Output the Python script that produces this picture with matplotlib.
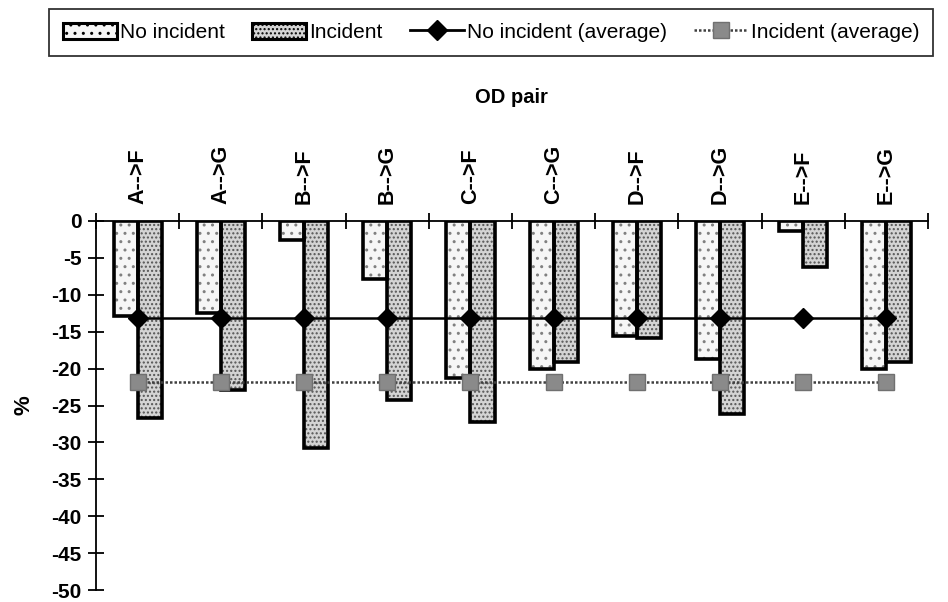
import numpy as np
import matplotlib

matplotlib.use("Agg")
import matplotlib.pyplot as plt  # noqa: E402
from matplotlib.patches import Patch  # noqa: E402
from matplotlib.lines import Line2D  # noqa: E402

plt.rcParams["font.family"] = ["Liberation Sans", "DejaVu Sans"]
plt.rcParams["hatch.linewidth"] = 1.0

# --- data ---
od_pairs = ["A-->F", "A-->G", "B-->F", "B-->G", "C-->F",
            "C-->G", "D-->F", "D-->G", "E-->F", "E-->G"]
no_incident = [-12.9, -12.4, -2.6, -7.9, -21.3, -20.0, -15.6, -18.7, -1.4, -20.0]
incident = [-26.7, -22.9, -30.7, -24.2, -27.3, -19.1, -15.8, -26.2, -6.2, -19.1]
no_incident_avg = [-13.2] * len(od_pairs)
incident_avg = [-21.8] * len(od_pairs)
y_ticks = list(range(0, -55, -5))

fig = plt.figure(figsize=(9.48, 6.02), dpi=100)
ax = fig.add_axes([0.1013, 0.0199, 0.8777, 0.613])

x = np.arange(len(od_pairs))
w = 0.29
# fill + hatch first, heavy black outline on top
ax.bar(x - w / 2, no_incident, w, color="#f6f6f6", hatch="..",
       edgecolor="#808080", linewidth=0, zorder=2)
ax.bar(x + w / 2, incident, w, color="#d4d4d4", hatch="....",
       edgecolor="#555555", linewidth=0, zorder=2)
ax.bar(x - w / 2, no_incident, w, fill=False, edgecolor="black", lw=2.6, zorder=3)
ax.bar(x + w / 2, incident, w, fill=False, edgecolor="black", lw=2.6, zorder=3)

ax.plot(x, no_incident_avg, "-", color="black", lw=1.8, marker="D",
        markersize=10, zorder=4)
ax.plot(x, incident_avg, color="#404040", lw=1.8, ls=(0, (1, 0.8)), marker="s",
        markersize=11, markerfacecolor="#8a8a8a", markeredgecolor="#707070",
        zorder=4)

ax.set_xlim(-0.5, len(od_pairs) - 0.5)
ax.set_ylim(-50, 0)
ax.set_yticks(y_ticks)
ax.set_yticklabels([str(v) for v in y_ticks], fontsize=15, fontweight="bold")
ax.tick_params(axis="y", direction="inout", length=11, width=1.3, pad=5)

ax.xaxis.tick_top()
ax.set_xticks(np.arange(len(od_pairs) + 1) - 0.5)
ax.set_xticklabels([])
ax.set_xticks(x, minor=True)
ax.set_xticklabels(od_pairs, minor=True, rotation=90, fontsize=15.5,
                   fontweight="bold")
ax.tick_params(axis="x", which="major", direction="inout", length=11, width=1.3)
ax.tick_params(axis="x", which="minor", length=0, pad=12)

for side in ["right", "bottom"]:
    ax.spines[side].set_visible(False)
for side in ["left", "top"]:
    ax.spines[side].set_linewidth(1.3)

ax.set_ylabel("%", fontsize=16, fontweight="bold", labelpad=12)
fig.text(0.54, 0.838, "OD pair", ha="center", va="center", fontsize=14.5,
         fontweight="bold")

handles = [
    Patch(facecolor="#f6f6f6", hatch="..", edgecolor="black", lw=2.2),
    Patch(facecolor="#d4d4d4", hatch="....", edgecolor="black", lw=2.2),
    Line2D([], [], color="black", lw=2, marker="D", markersize=10),
    Line2D([], [], color="#404040", lw=1.8, ls=(0, (1, 0.8)), marker="s",
           markersize=11, markerfacecolor="#8a8a8a", markeredgecolor="#707070"),
]
labels = ["No incident", "Incident", "No incident (average)", "Incident (average)"]
leg = fig.legend(handles, labels, loc="upper left",
                 bbox_to_anchor=(0.0517, 0.985), ncol=4, fontsize=15,
                 frameon=True, fancybox=False, edgecolor="black",
                 handlelength=2.6, handleheight=0.85, handletextpad=0.15,
                 columnspacing=1.3, borderpad=0.65, borderaxespad=0)
leg.get_frame().set_linewidth(1.3)

fig.savefig("out.png", dpi=100)
